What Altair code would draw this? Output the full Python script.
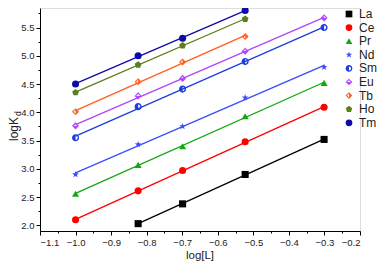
import altair as alt
import pandas as pd

elements = ["La", "Ce", "Pr", "Nd", "Sm", "Eu", "Tb", "Ho", "Tm"]
logL = [-1.0, -0.824, -0.699, -0.523, -0.301]
La = [None, 2.03, 2.38, 2.90, 3.52]
Ce = [2.10, 2.61, 2.97, 3.48, 4.09]
Pr = [2.56, 3.07, 3.40, 3.93, 4.52]
Nd = [2.90, 3.43, 3.75, 4.26, 4.80]
Sm = [3.55, 4.10, 4.41, 4.90, 5.50]
Eu = [3.76, 4.29, 4.60, 5.08, 5.67]
Tb = [4.01, 4.54, 4.89, 5.34, None]
Ho = [4.35, 4.84, 5.18, 5.65, None]
Tm = [4.50, 5.00, 5.31, 5.80, None]
series = [La, Ce, Pr, Nd, Sm, Eu, Tb, Ho, Tm]

colors = ["#000000", "#ff0000", "#12a812", "#3a4cff", "#1f3ce0",
          "#b044ff", "#ff5f1f", "#5b7f1c", "#0b0ba8"]

star = ("M0,-1 L0.235,-0.324 L0.951,-0.309 L0.380,0.124 L0.588,0.809 L0,0.4 "
        "L-0.588,0.809 L-0.380,0.124 L-0.951,-0.309 L-0.235,-0.324 Z")
half_circle = ("M0,-1 A1,1 0 0,0 0,1 Z "
               "M0,-1 A1,1 0 0,1 0,1 L0,0.6 A0.6,0.6 0 0,0 0,-0.6 Z")
eu_diamond = ("M-1,0 L1,0 L0,1 Z "
              "M-1,0 L0,-1 L1,0 L0.55,0 L0,-0.55 L-0.55,0 Z")
tb_diamond = ("M0,-1 L1,0 L0,1 Z "
              "M0,-1 L-1,0 L0,1 L0,0.55 L-0.55,0 L0,-0.55 Z")
pentagon = "M0,-1 L0.951,-0.309 L0.588,0.809 L-0.588,0.809 L-0.951,-0.309 Z"
shapes = ["square", "circle", "triangle-up", star, half_circle,
          eu_diamond, tb_diamond, pentagon, "circle"]

x_major = [-1.1, -1.0, -0.9, -0.8, -0.7, -0.6, -0.5, -0.4, -0.3, -0.2]
x_minor = [-1.05, -0.95, -0.85, -0.75, -0.65, -0.55, -0.45, -0.35, -0.25]
y_major = [2.0, 2.5, 3.0, 3.5, 4.0, 4.5, 5.0, 5.5]
y_minor = [2.25, 2.75, 3.25, 3.75, 4.25, 4.75, 5.25, 5.75]

rows = []
for el, vals in zip(elements, series):
    for xv, yv in zip(logL, vals):
        if yv is not None:
            rows.append({"el": el, "logL": xv, "logK": yv})
df = pd.DataFrame(rows)

FONT = "Liberation Sans"
xscale = alt.Scale(domain=[-1.1, -0.2], nice=False, zero=False)
yscale = alt.Scale(domain=[1.9, 5.845], nice=False, zero=False)
cscale = alt.Scale(domain=elements, range=colors)
sscale = alt.Scale(domain=elements, range=shapes)

axis_common = dict(domainColor="#000000", tickColor="#000000", grid=False,
                   labelFont=FONT, labelFontSize=9.5, labelColor="#222222",
                   tickSize=4, labelPadding=2)

legend = alt.Legend(orient="none", legendX=303, legendY=0,
                    title=None, labelFont=FONT, labelFontSize=12,
                    labelColor="#222222", symbolSize=45,
                    labelOffset=4, rowPadding=1.6, symbolStrokeWidth=0)

base = alt.Chart(df)

lines = base.transform_regression("logL", "logK", groupby=["el"]).mark_line(
    strokeWidth=1.3
).encode(
    x=alt.X("logL:Q", scale=xscale,
            axis=alt.Axis(values=x_major, format=".1f", title=None,
                          orient="bottom", **axis_common)),
    y=alt.Y("logK:Q", scale=yscale,
            axis=alt.Axis(values=y_major, format=".1f", title=None,
                          orient="left", **axis_common)),
    color=alt.Color("el:N", scale=cscale, legend=legend),
    detail="el:N",
)

points = base.mark_point(filled=True, size=50, opacity=1, strokeWidth=0).encode(
    x=alt.X("logL:Q", scale=xscale, axis=None),
    y=alt.Y("logK:Q", scale=yscale, axis=None),
    color=alt.Color("el:N", scale=cscale, legend=legend),
    shape=alt.Shape("el:N", scale=sscale, legend=legend),
)

minor = alt.Chart(pd.DataFrame({"logL": [-1.0], "logK": [2.0]})).mark_point(
    opacity=0
).encode(
    x=alt.X("logL:Q", scale=xscale,
            axis=alt.Axis(values=x_minor, labels=False, domain=False, title=None,
                          ticks=True, tickSize=2, tickColor="#000000",
                          grid=False, orient="bottom")),
    y=alt.Y("logK:Q", scale=yscale,
            axis=alt.Axis(values=y_minor, labels=False, domain=False, title=None,
                          ticks=True, tickSize=2, tickColor="#000000",
                          grid=False, orient="left")),
)

x_title = alt.Chart(pd.DataFrame({"t": ["log[L]"]})).mark_text(
    align="center", baseline="alphabetic", font=FONT, fontSize=11.5,
    color="#222222"
).encode(text="t:N", x=alt.value(160), y=alt.value(251))

title_main = alt.Chart(pd.DataFrame({"t": ["logK"]})).mark_text(
    angle=270, align="left", baseline="alphabetic", font=FONT, fontSize=12,
    color="#222222"
).encode(text="t:N", x=alt.value(-22), y=alt.value(133))

title_sub = alt.Chart(pd.DataFrame({"t": ["d"]})).mark_text(
    angle=270, align="left", baseline="alphabetic", font=FONT, fontSize=8.5,
    color="#222222"
).encode(text="t:N", x=alt.value(-19), y=alt.value(108))

chart = alt.layer(minor, lines, points, x_title, title_main, title_sub).resolve_axis(
    x="independent", y="independent"
).properties(
    width=320, height=223,
    padding={"left": 32, "top": 0, "right": 17, "bottom": 30},
    autosize=alt.AutoSizeParams(type="none"),
).configure_view(stroke=None).configure(background="white")

chart.save("out.html", embed_options={"renderer": "svg", "actions": False})
